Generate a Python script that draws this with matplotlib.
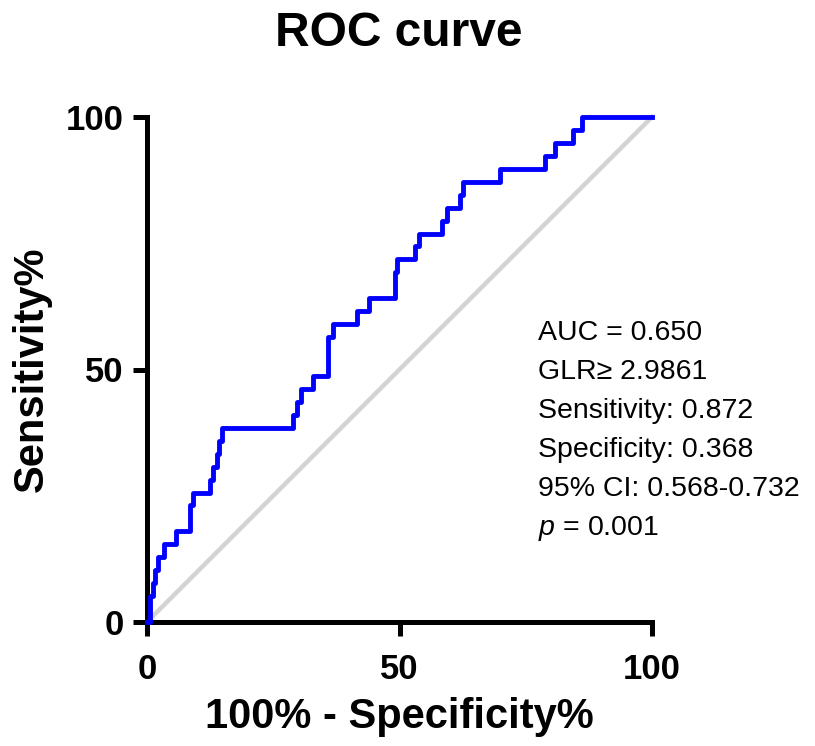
import matplotlib
matplotlib.use("Agg")
import matplotlib.pyplot as plt

plt.rcParams['font.family'] = ['Liberation Sans', 'DejaVu Sans']
plt.rcParams['mathtext.fontset'] = 'custom'
plt.rcParams['mathtext.it'] = 'Liberation Sans:italic'
plt.rcParams['mathtext.rm'] = 'Liberation Sans'

# ROC step points: x = 100% - Specificity%, y = Sensitivity%
fpr = [0, 0.5, 1.2, 1.6, 2.2, 3.4, 5.7, 8.5, 9.1, 12.5, 13.0, 13.9, 14.3, 14.9,
       28.9, 29.7, 30.5, 32.9, 35.8, 36.9, 41.6, 44.0, 49.1, 49.5, 53.0, 53.8,
       58.4, 59.4, 62.0, 62.6, 69.9, 78.8, 80.8, 84.4, 86.1, 100]
tpr = [0, 5.13, 7.69, 10.26, 12.82, 15.38, 17.95, 23.08, 25.64, 28.21, 30.77,
       33.33, 35.90, 38.46, 41.03, 43.59, 46.15, 48.72, 56.41, 58.97, 61.54,
       64.10, 69.23, 71.79, 74.36, 76.92, 79.49, 82.05, 84.62, 87.18, 89.74,
       92.31, 94.87, 97.44, 100, 100]
ref_line = [0, 100]
ticks = [0, 50, 100]
stats_lines = ["AUC = 0.650", "GLR\u2265 2.9861", "Sensitivity: 0.872",
               "Specificity: 0.368", "95% CI: 0.568-0.732", "$p$ = 0.001"]

fig = plt.figure(figsize=(8.15, 7.46), dpi=100)
ax = fig.add_axes([147/815, 1-622/746, 505/815, 505/746])

ax.plot(ref_line, ref_line, color='#d3d3d3', lw=3.2, zorder=1, clip_on=False)
ax.step(fpr, tpr, where='post', color='#0000ff', lw=3.5, zorder=4, clip_on=False)

ax.set_xlim(0, 100)
ax.set_ylim(0, 100)
for s in ['top', 'right']:
    ax.spines[s].set_visible(False)
for s in ['left', 'bottom']:
    ax.spines[s].set_linewidth(3.6)
    ax.spines[s].set_zorder(3)
    ax.spines[s].set_capstyle('projecting')
ax.set_xticks(ticks)
ax.set_yticks(ticks)
ax.tick_params(axis='both', length=10, width=3.6, labelsize=25)
ax.tick_params(axis='x', pad=12)
ax.tick_params(axis='y', pad=7)
for lab in ax.get_xticklabels() + ax.get_yticklabels():
    lab.set_fontweight('bold')

ax.set_xlabel("100% - Specificity%", fontsize=30, fontweight='bold', labelpad=8)
ax.set_ylabel("Sensitivity%", fontsize=30, fontweight='bold', labelpad=10)
fig.text(399/815, 1-33/746, "ROC curve", fontsize=34.5, fontweight='bold',
         ha='center', va='center')

x0 = (538-147)/505
for i, line in enumerate(stats_lines):
    ybase = 340 + i*39
    ax.text(x0, (622-ybase)/505, line, transform=ax.transAxes, fontsize=20.5,
            ha='left', va='baseline', clip_on=False)

fig.savefig("out.png", dpi=100)
